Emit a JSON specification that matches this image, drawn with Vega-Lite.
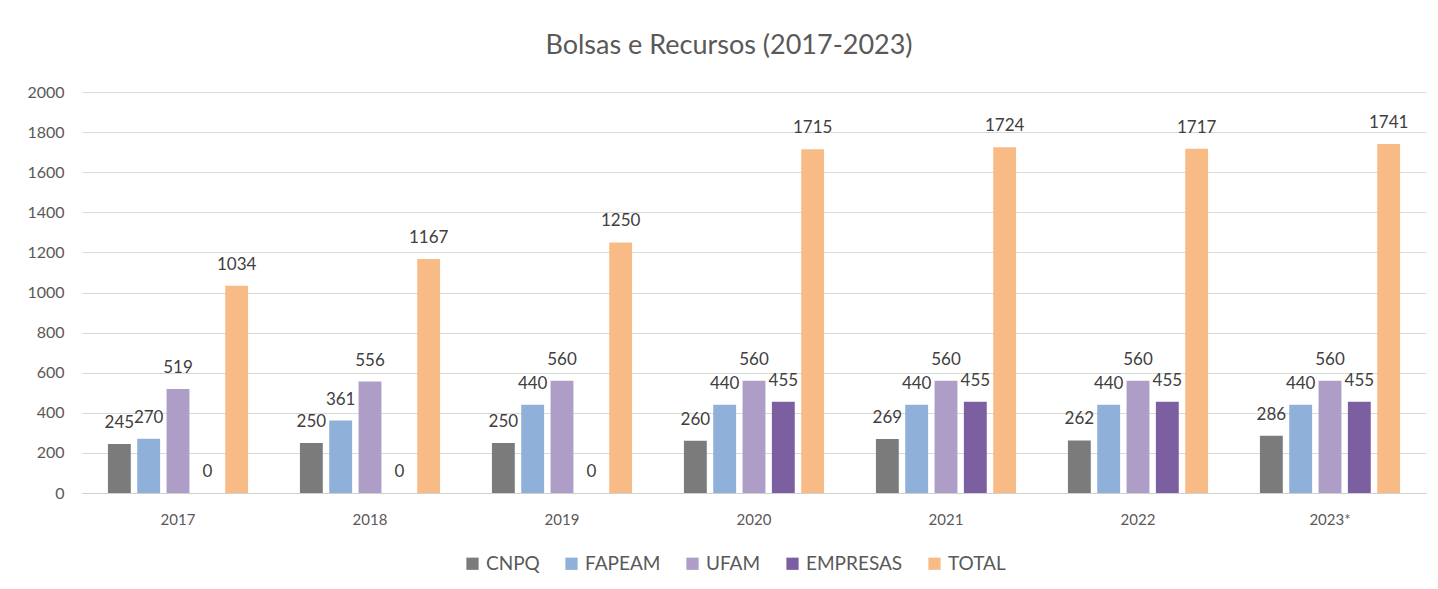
{
  "$schema": "https://vega.github.io/schema/vega-lite/v6.json",
  "width": 1344,
  "height": 401,
  "autosize": {"type": "none"},
  "padding": {"left": 82, "top": 92, "right": 12, "bottom": 96},
  "background": "white",
  "title": {
    "text": "Bolsas e Recursos (2017-2023)",
    "fontSize": 27,
    "font": "Lato",
    "fontWeight": "normal",
    "color": "#595959",
    "anchor": "middle",
    "dx": -25,
    "offset": 24
  },
  "data": {
    "values": [
      {"year": "2017", "source": "CNPQ", "value": 245},
      {"year": "2017", "source": "FAPEAM", "value": 270},
      {"year": "2017", "source": "UFAM", "value": 519},
      {"year": "2017", "source": "EMPRESAS", "value": 0},
      {"year": "2017", "source": "TOTAL", "value": 1034},
      {"year": "2018", "source": "CNPQ", "value": 250},
      {"year": "2018", "source": "FAPEAM", "value": 361},
      {"year": "2018", "source": "UFAM", "value": 556},
      {"year": "2018", "source": "EMPRESAS", "value": 0},
      {"year": "2018", "source": "TOTAL", "value": 1167},
      {"year": "2019", "source": "CNPQ", "value": 250},
      {"year": "2019", "source": "FAPEAM", "value": 440},
      {"year": "2019", "source": "UFAM", "value": 560},
      {"year": "2019", "source": "EMPRESAS", "value": 0},
      {"year": "2019", "source": "TOTAL", "value": 1250},
      {"year": "2020", "source": "CNPQ", "value": 260},
      {"year": "2020", "source": "FAPEAM", "value": 440},
      {"year": "2020", "source": "UFAM", "value": 560},
      {"year": "2020", "source": "EMPRESAS", "value": 455},
      {"year": "2020", "source": "TOTAL", "value": 1715},
      {"year": "2021", "source": "CNPQ", "value": 269},
      {"year": "2021", "source": "FAPEAM", "value": 440},
      {"year": "2021", "source": "UFAM", "value": 560},
      {"year": "2021", "source": "EMPRESAS", "value": 455},
      {"year": "2021", "source": "TOTAL", "value": 1724},
      {"year": "2022", "source": "CNPQ", "value": 262},
      {"year": "2022", "source": "FAPEAM", "value": 440},
      {"year": "2022", "source": "UFAM", "value": 560},
      {"year": "2022", "source": "EMPRESAS", "value": 455},
      {"year": "2022", "source": "TOTAL", "value": 1717},
      {"year": "2023*", "source": "CNPQ", "value": 286},
      {"year": "2023*", "source": "FAPEAM", "value": 440},
      {"year": "2023*", "source": "UFAM", "value": 560},
      {"year": "2023*", "source": "EMPRESAS", "value": 455},
      {"year": "2023*", "source": "TOTAL", "value": 1741}
    ]
  },
  "encoding": {
    "x": {
      "field": "year",
      "type": "nominal",
      "sort": null,
      "scale": {"paddingInner": 0.27, "paddingOuter": 0.135},
      "axis": {
        "title": null,
        "labelAngle": 0,
        "ticks": false,
        "labelPadding": 19,
        "labelFontSize": 15,
        "labelFont": "Lato",
        "labelColor": "#595959",
        "domainColor": "#d0d0d0",
        "domainWidth": 1
      }
    },
    "xOffset": {
      "field": "source",
      "type": "nominal",
      "sort": ["CNPQ", "FAPEAM", "UFAM", "EMPRESAS", "TOTAL"],
      "scale": {"paddingInner": 0.22, "paddingOuter": 0}
    },
    "y": {
      "field": "value",
      "type": "quantitative",
      "scale": {"domain": [0, 2000], "nice": false},
      "axis": {
        "title": null,
        "values": [0, 200, 400, 600, 800, 1000, 1200, 1400, 1600, 1800, 2000],
        "format": "d",
        "domain": false,
        "ticks": false,
        "labelPadding": 18,
        "labelFontSize": 16,
        "labelFont": "Lato",
        "labelColor": "#595959",
        "gridColor": "#d9d9d9",
        "gridWidth": 1
      }
    }
  },
  "layer": [
    {
      "mark": {"type": "bar"},
      "encoding": {
        "color": {
          "field": "source",
          "type": "nominal",
          "sort": ["CNPQ", "FAPEAM", "UFAM", "EMPRESAS", "TOTAL"],
          "scale": {
            "domain": ["CNPQ", "FAPEAM", "UFAM", "EMPRESAS", "TOTAL"],
            "range": ["#7b7b7b", "#8fb0d8", "#ae9dc7", "#7c5fa0", "#f8bb86"]
          },
          "legend": {
            "title": null,
            "orient": "none",
            "legendX": 381,
            "legendY": 462,
            "direction": "horizontal",
            "symbolType": "square",
            "symbolSize": 150,
            "symbolStrokeWidth": 0,
            "labelFontSize": 19,
            "labelFont": "Lato",
            "labelColor": "#595959",
            "columnPadding": 22
          }
        }
      }
    },
    {
      "mark": {
        "type": "text",
        "baseline": "alphabetic",
        "dy": -16,
        "fontSize": 17,
        "font": "Lato",
        "color": "#404040"
      },
      "encoding": {
        "text": {"field": "value", "type": "quantitative"}
      }
    }
  ],
  "config": {
    "view": {"stroke": null}
  }
}
